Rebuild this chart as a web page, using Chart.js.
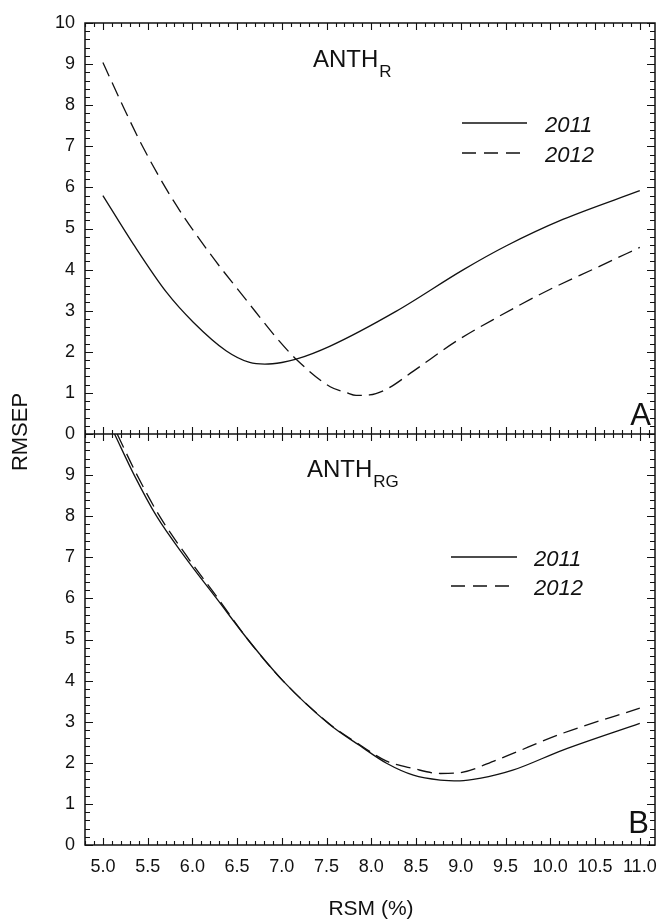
<!DOCTYPE html>
<html>
<head>
<meta charset="utf-8">
<script src="https://cdn.jsdelivr.net/npm/chart.js@4.4.1/dist/chart.umd.min.js"></script>
<style>
html,body{margin:0;padding:0;background:#fff;}
#wrap{position:relative;width:661px;height:922px;}
</style>
</head>
<body>
<div id="wrap"><canvas id="c" width="661" height="922"></canvas></div>
<script>
// ---- data ----
const xTickValues = [5.0, 5.5, 6.0, 6.5, 7.0, 7.5, 8.0, 8.5, 9.0, 9.5, 10.0, 10.5, 11.0];
const yTickValues = [0, 1, 2, 3, 4, 5, 6, 7, 8, 9, 10];
const years = ['2011', '2012'];
const panelLetters = ['A', 'B'];
const panelTitleMain = 'ANTH';
const panelTitleSubs = ['R', 'RG'];
const xAxisTitle = 'RSM (%)';
const yAxisTitle = 'RMSEP';

// Panel A (ANTH_R)
const a2011X = [5.0, 5.34, 5.71, 6.01, 6.38, 6.64, 6.81, 7.0, 7.16, 7.54, 8.28, 9.03, 9.51, 10.14, 11.0];
const a2011Y = [5.80, 4.62, 3.45, 2.72, 2.02, 1.74, 1.70, 1.74, 1.82, 2.14, 2.99, 4.00, 4.58, 5.22, 5.92];
const a2012X = [5.0, 5.23, 5.45, 5.79, 6.2, 6.61, 6.94, 7.16, 7.54, 7.72, 7.83, 7.98, 8.17, 8.47, 8.95, 9.40, 9.96, 10.52, 11.0];
const a2012Y = [9.04, 7.95, 6.97, 5.67, 4.38, 3.24, 2.34, 1.82, 1.15, 1.01, 0.94, 0.95, 1.09, 1.53, 2.26, 2.83, 3.48, 4.05, 4.54];

// Panel B (ANTH_RG)
const b2011X = [5.13, 5.35, 5.60, 5.92, 6.27, 6.62, 7.01, 7.53, 7.87, 8.17, 8.47, 8.77, 8.99, 9.21, 9.58, 10.14, 11.0];
const b2011Y = [10.0, 9.0, 8.0, 7.0, 6.0, 5.0, 4.0, 2.94, 2.42, 1.99, 1.70, 1.58, 1.56, 1.62, 1.82, 2.31, 2.96];
const b2012X = [5.16, 5.37, 5.62, 5.93, 6.28, 6.62, 7.01, 7.53, 7.87, 8.17, 8.47, 8.77, 8.99, 9.40, 10.14, 11.0];
const b2012Y = [10.0, 9.05, 8.05, 7.05, 6.02, 5.0, 4.0, 2.95, 2.44, 2.04, 1.86, 1.74, 1.76, 2.07, 2.72, 3.33];

// ---- helpers ----
const INK = '#111';
const pts = (xs, ys) => xs.map((x, i) => ({x: x, y: ys[i]}));
const FONT = "'Liberation Sans', Arial, sans-serif";

function ds(label, xs, ys, yAxisID, dashed) {
  return {
    label: label,
    data: pts(xs, ys),
    yAxisID: yAxisID,
    borderColor: INK,
    borderWidth: 1.3,
    borderDash: dashed ? [15, 7] : [],
    pointRadius: 0,
    fill: false,
    cubicInterpolationMode: 'monotone',
    tension: 0.4
  };
}

const framePlugin = {
  id: 'frame',
  afterDatasetsDraw(chart) {
    const ctx = chart.ctx;
    const xs = chart.scales.x, yT = chart.scales.yTop, yB = chart.scales.yBot;
    const L = xs.left, R = xs.right;
    ctx.save();
    ctx.strokeStyle = INK;
    ctx.lineWidth = 1.5;
    ctx.strokeRect(L, yT.top, R - L, yB.bottom - yT.top);
    ctx.beginPath(); ctx.moveTo(L, yT.bottom); ctx.lineTo(R, yT.bottom); ctx.stroke();
    ctx.lineWidth = 1.1;
    ctx.beginPath();
    // x ticks every 0.1, major every 0.5
    for (let k = 48; k <= 111; k++) {
      const v = k / 10;
      const px = Math.round(xs.getPixelForValue(v)) + 0.5;
      const len = (k % 5 === 0) ? 7 : 4;
      ctx.moveTo(px, yB.bottom); ctx.lineTo(px, yB.bottom - len);
      ctx.moveTo(px, yT.top); ctx.lineTo(px, yT.top + len);
      ctx.moveTo(px, yT.bottom - len); ctx.lineTo(px, yT.bottom + len);
    }
    // y ticks every 0.2, major every 1
    [yT, yB].forEach(sc => {
      for (let k = 0; k <= 50; k++) {
        const v = k / 5;
        const py = Math.round(sc.getPixelForValue(v)) + 0.5;
        const len = (k % 5 === 0) ? 8 : 5;
        ctx.moveTo(L, py); ctx.lineTo(L + len, py);
        ctx.moveTo(R, py); ctx.lineTo(R - len, py);
      }
    });
    ctx.stroke();
    ctx.restore();
  },
  afterDraw(chart) {
    const ctx = chart.ctx;
    ctx.save();
    ctx.fillStyle = INK;
    ctx.textBaseline = 'alphabetic';
    // panel titles with subscripts
    const titles = [{x: 313, y: 67, sub: panelTitleSubs[0]}, {x: 307, y: 477, sub: panelTitleSubs[1]}];
    titles.forEach(t => {
      ctx.font = '24px ' + FONT;
      ctx.textAlign = 'left';
      ctx.fillText(panelTitleMain, t.x, t.y);
      const w = ctx.measureText(panelTitleMain).width;
      ctx.font = '17px ' + FONT;
      ctx.fillText(t.sub, t.x + w + 1, t.y + 10);
    });
    // panel letters
    ctx.font = '31px ' + FONT;
    ctx.textAlign = 'right';
    ctx.fillText(panelLetters[0], 651, 425);
    ctx.fillText(panelLetters[1], 649, 833);
    // legends
    const legends = [
      {x0: 462, x1: 527, y1: 123, y2: 153, tx: 545},
      {x0: 451, x1: 517, y1: 557, y2: 586, tx: 534}
    ];
    legends.forEach(lg => {
      ctx.strokeStyle = INK; ctx.lineWidth = 1.3;
      ctx.setLineDash([]);
      ctx.beginPath(); ctx.moveTo(lg.x0, lg.y1); ctx.lineTo(lg.x1, lg.y1); ctx.stroke();
      ctx.setLineDash([14, 8]);
      ctx.beginPath(); ctx.moveTo(lg.x0, lg.y2); ctx.lineTo(lg.x1 - 6, lg.y2); ctx.stroke();
      ctx.setLineDash([]);
      ctx.font = 'italic 22px ' + FONT;
      ctx.textAlign = 'left';
      ctx.fillText(years[0], lg.tx, lg.y1 + 9);
      ctx.fillText(years[1], lg.tx, lg.y2 + 9);
    });
    // axis titles
    ctx.font = '21px ' + FONT;
    ctx.textAlign = 'center';
    ctx.textBaseline = 'middle';
    ctx.fillText(xAxisTitle, 371, 909);
    ctx.font = '22px ' + FONT;
    ctx.translate(21, 432);
    ctx.rotate(-Math.PI / 2);
    ctx.fillText(yAxisTitle, 0, 0);
    ctx.restore();
  }
};

Chart.defaults.font.family = FONT;
Chart.defaults.font.size = 18;
Chart.defaults.color = INK;

const yCommon = (hideTop) => ({
  type: 'linear',
  position: 'left',
  stack: 'panels',
  stackWeight: 1,
  min: 0,
  max: 10,
  grid: {display: false, drawTicks: false},
  border: {display: false},
  afterBuildTicks: sc => { sc.ticks = yTickValues.map(v => ({value: v})); },
  afterFit: sc => { sc.width = 85; sc.paddingTop = 0; sc.paddingBottom = 0; },
  ticks: {
    padding: 10,
    autoSkip: false,
    color: INK,
    font: {size: 18, family: FONT},
    callback: v => (hideTop && v === 10) ? '' : String(v)
  }
});

new Chart(document.getElementById('c'), {
  type: 'line',
  data: {
    datasets: [
      ds(years[0], a2011X, a2011Y, 'yTop', false),
      ds(years[1], a2012X, a2012Y, 'yTop', true),
      ds(years[0], b2011X, b2011Y, 'yBot', false),
      ds(years[1], b2012X, b2012Y, 'yBot', true)
    ]
  },
  options: {
    responsive: false,
    animation: false,
    devicePixelRatio: 1,
    layout: {padding: {top: 23, right: 6, left: 0, bottom: 0}},
    plugins: {legend: {display: false}, tooltip: {enabled: false}},
    scales: {
      x: {
        type: 'linear',
        min: 4.8,
        max: 11.17,
        grid: {display: false, drawTicks: false},
        border: {display: false},
        afterBuildTicks: sc => { sc.ticks = xTickValues.map(v => ({value: v})); },
        afterFit: sc => { sc.height = 77; sc.paddingLeft = 0; sc.paddingRight = 0; },
        ticks: {padding: 11, maxRotation: 0, autoSkip: false, color: INK, font: {size: 18, family: FONT}, callback: v => Number(v).toFixed(1)}
      },
      yBot: yCommon(true),
      yTop: yCommon(false)
    }
  },
  plugins: [framePlugin]
});
</script>
</body>
</html>
